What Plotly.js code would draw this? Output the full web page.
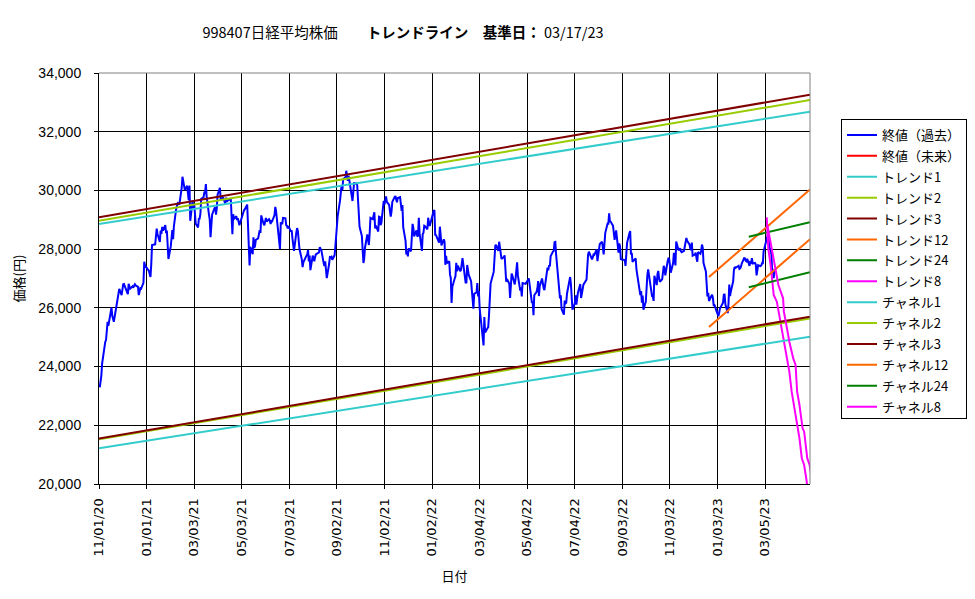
<!DOCTYPE html>
<html><head><meta charset="utf-8">
<script src="https://cdn.plot.ly/plotly-3.0.1.min.js"></script>
<style>html,body{margin:0;padding:0;background:#fff}</style>
</head><body><div id="chart" style="width:975px;height:599px"></div>
<script>
// 終値(過去): [date, close]
const closeSeries = [
['2020-11-02',23295],['2020-11-04',23695],['2020-11-05',24105],['2020-11-06',24325],['2020-11-09',24839],['2020-11-10',24905],['2020-11-11',25349],['2020-11-12',25520],['2020-11-13',25385],['2020-11-16',25906],['2020-11-17',26014],['2020-11-18',25728],['2020-11-19',25634],['2020-11-20',25527],['2020-11-24',26165],['2020-11-25',26296],['2020-11-26',26537],['2020-11-27',26644],['2020-11-30',26433],
['2020-12-01',26787],['2020-12-02',26800],['2020-12-03',26809],['2020-12-04',26751],['2020-12-07',26547],['2020-12-08',26467],['2020-12-09',26817],['2020-12-10',26756],['2020-12-11',26652],['2020-12-14',26732],['2020-12-15',26687],['2020-12-16',26757],['2020-12-17',26806],['2020-12-18',26763],['2020-12-21',26714],['2020-12-22',26436],['2020-12-23',26524],['2020-12-24',26668],['2020-12-25',26656],['2020-12-28',26854],['2020-12-29',27568],['2020-12-30',27444],
['2021-01-04',27258],['2021-01-05',27158],['2021-01-06',27055],['2021-01-07',27490],['2021-01-08',28139],['2021-01-12',28164],['2021-01-13',28456],['2021-01-14',28698],['2021-01-15',28519],['2021-01-18',28242],['2021-01-19',28633],['2021-01-20',28523],['2021-01-21',28756],['2021-01-22',28631],['2021-01-25',28822],['2021-01-26',28546],['2021-01-27',28635],['2021-01-28',28197],['2021-01-29',27663],
['2021-02-01',28091],['2021-02-02',28362],['2021-02-03',28646],['2021-02-04',28341],['2021-02-05',28779],['2021-02-08',29388],['2021-02-09',29505],['2021-02-10',29562],['2021-02-12',29520],['2021-02-15',30084],['2021-02-16',30467],['2021-02-17',30292],['2021-02-18',30236],['2021-02-19',30017],['2021-02-22',30156],['2021-02-24',29671],['2021-02-25',30168],['2021-02-26',28966],
['2021-03-01',29663],['2021-03-02',29408],['2021-03-03',29559],['2021-03-04',28930],['2021-03-05',28864],['2021-03-08',28743],['2021-03-09',29027],['2021-03-10',29036],['2021-03-11',29211],['2021-03-12',29717],['2021-03-15',29766],['2021-03-16',29921],['2021-03-17',29914],['2021-03-18',30216],['2021-03-19',29792],['2021-03-22',29174],['2021-03-23',28995],['2021-03-24',28405],['2021-03-25',28729],['2021-03-26',29176],['2021-03-29',29384],['2021-03-30',29432],['2021-03-31',29178],
['2021-04-01',29388],['2021-04-02',29854],['2021-04-05',30089],['2021-04-06',29696],['2021-04-07',29730],['2021-04-08',29708],['2021-04-09',29768],['2021-04-12',29538],['2021-04-13',29751],['2021-04-14',29620],['2021-04-15',29642],['2021-04-16',29683],['2021-04-19',29685],['2021-04-20',29100],['2021-04-21',28508],['2021-04-22',29188],['2021-04-23',29020],['2021-04-26',29126],['2021-04-27',28991],['2021-04-28',29053],['2021-04-30',28812],
['2021-05-06',29331],['2021-05-07',29357],['2021-05-10',29518],['2021-05-11',28608],['2021-05-12',28147],['2021-05-13',27448],['2021-05-14',28084],['2021-05-17',27824],['2021-05-18',28406],['2021-05-19',28044],['2021-05-20',28098],['2021-05-21',28317],['2021-05-24',28364],['2021-05-25',28553],['2021-05-26',28642],['2021-05-27',28549],['2021-05-28',29149],['2021-05-31',28860],
['2021-06-01',28814],['2021-06-02',28946],['2021-06-03',29058],['2021-06-04',28941],['2021-06-07',29019],['2021-06-08',28963],['2021-06-09',28860],['2021-06-10',28958],['2021-06-11',28948],['2021-06-14',29161],['2021-06-15',29441],['2021-06-16',29291],['2021-06-17',29018],['2021-06-18',28964],['2021-06-21',28010],['2021-06-22',28884],['2021-06-23',28874],['2021-06-24',28875],['2021-06-25',29066],['2021-06-28',29048],['2021-06-29',28812],['2021-06-30',28791],
['2021-07-01',28707],['2021-07-02',28783],['2021-07-05',28598],['2021-07-06',28643],['2021-07-07',28366],['2021-07-08',28118],['2021-07-09',27940],['2021-07-12',28569],['2021-07-13',28718],['2021-07-14',28608],['2021-07-15',28279],['2021-07-16',28003],['2021-07-19',27652],['2021-07-20',27388],['2021-07-21',27548],['2021-07-26',27833],['2021-07-27',27970],['2021-07-28',27581],['2021-07-29',27782],['2021-07-30',27283],
['2021-08-02',27781],['2021-08-03',27641],['2021-08-04',27584],['2021-08-05',27728],['2021-08-06',27820],['2021-08-10',27888],['2021-08-11',28070],['2021-08-12',28015],['2021-08-13',27977],['2021-08-16',27523],['2021-08-17',27424],['2021-08-18',27585],['2021-08-19',27281],['2021-08-20',27013],['2021-08-23',27494],['2021-08-24',27732],['2021-08-25',27724],['2021-08-26',27742],['2021-08-27',27641],['2021-08-30',27789],['2021-08-31',28089],
['2021-09-01',28451],['2021-09-02',28543],['2021-09-03',29128],['2021-09-06',29659],['2021-09-07',29916],['2021-09-08',30181],['2021-09-09',30008],['2021-09-10',30381],['2021-09-13',30447],['2021-09-14',30670],['2021-09-15',30511],['2021-09-16',30323],['2021-09-17',30500],['2021-09-21',29839],['2021-09-22',29639],['2021-09-24',30248],['2021-09-27',30240],['2021-09-28',30183],['2021-09-29',29544],['2021-09-30',29452],
['2021-10-01',28771],['2021-10-04',28444],['2021-10-05',27822],['2021-10-06',27528],['2021-10-07',27678],['2021-10-08',28048],['2021-10-11',28498],['2021-10-12',28230],['2021-10-13',28140],['2021-10-14',28550],['2021-10-15',29068],['2021-10-18',29025],['2021-10-19',29215],['2021-10-20',29255],['2021-10-21',28708],['2021-10-22',28804],['2021-10-25',28600],['2021-10-26',29106],['2021-10-27',29098],['2021-10-28',28820],['2021-10-29',28892],
['2021-11-01',29647],['2021-11-02',29520],['2021-11-04',29794],['2021-11-05',29611],['2021-11-08',29507],['2021-11-09',29285],['2021-11-10',29106],['2021-11-11',29277],['2021-11-12',29609],['2021-11-15',29776],['2021-11-16',29808],['2021-11-17',29688],['2021-11-18',29598],['2021-11-19',29745],['2021-11-22',29774],['2021-11-24',29302],['2021-11-25',29499],['2021-11-26',28751],['2021-11-29',28283],['2021-11-30',27821],
['2021-12-01',27935],['2021-12-02',27753],['2021-12-03',28029],['2021-12-06',27927],['2021-12-07',28455],['2021-12-08',28860],['2021-12-09',28725],['2021-12-10',28437],['2021-12-13',28640],['2021-12-14',28432],['2021-12-15',28459],['2021-12-16',29066],['2021-12-17',28545],['2021-12-20',27937],['2021-12-21',28517],['2021-12-22',28562],['2021-12-23',28798],['2021-12-24',28782],['2021-12-27',28676],['2021-12-28',29069],['2021-12-29',28906],['2021-12-30',28791],
['2022-01-04',29301],['2022-01-05',29332],['2022-01-06',28487],['2022-01-07',28478],['2022-01-11',28222],['2022-01-12',28765],['2022-01-13',28489],['2022-01-14',28124],['2022-01-17',28333],['2022-01-18',28257],['2022-01-19',27467],['2022-01-20',27772],['2022-01-21',27522],['2022-01-24',27588],['2022-01-25',27131],['2022-01-26',27011],['2022-01-27',26170],['2022-01-28',26717],['2022-01-31',27001],
['2022-02-01',27078],['2022-02-02',27533],['2022-02-03',27241],['2022-02-04',27439],['2022-02-07',27248],['2022-02-08',27284],['2022-02-09',27579],['2022-02-10',27696],['2022-02-14',26865],['2022-02-15',26865],['2022-02-16',27460],['2022-02-17',27232],['2022-02-18',27122],['2022-02-21',26910],['2022-02-22',26449],['2022-02-24',25970],['2022-02-25',26476],['2022-02-28',26526],
['2022-03-01',26844],['2022-03-02',26393],['2022-03-03',26577],['2022-03-04',25985],['2022-03-07',25221],['2022-03-08',24790],['2022-03-09',24717],['2022-03-10',25690],['2022-03-11',25163],['2022-03-14',25307],['2022-03-15',25346],['2022-03-16',25762],['2022-03-17',26652],['2022-03-18',26827],['2022-03-22',27224],['2022-03-23',28040],['2022-03-24',28110],['2022-03-25',28149],['2022-03-28',27943],['2022-03-29',28252],['2022-03-30',28027],['2022-03-31',27821],
['2022-04-01',27665],['2022-04-04',27736],['2022-04-05',27787],['2022-04-06',27350],['2022-04-07',26888],['2022-04-08',26985],['2022-04-11',26821],['2022-04-12',26334],['2022-04-13',26843],['2022-04-14',27172],['2022-04-15',27093],['2022-04-18',26799],['2022-04-19',26985],['2022-04-20',27217],['2022-04-21',27553],['2022-04-22',27105],['2022-04-25',26590],['2022-04-26',26700],['2022-04-27',26386],['2022-04-28',26847],
['2022-05-02',26818],['2022-05-06',27003],['2022-05-09',26319],['2022-05-10',26167],['2022-05-11',26213],['2022-05-12',25748],['2022-05-13',26427],['2022-05-16',26547],['2022-05-17',26659],['2022-05-18',26911],['2022-05-19',26402],['2022-05-20',26739],['2022-05-23',27001],['2022-05-24',26748],['2022-05-25',26677],['2022-05-26',26604],['2022-05-27',26781],['2022-05-30',27369],['2022-05-31',27279],
['2022-06-01',27457],['2022-06-02',27413],['2022-06-03',27761],['2022-06-06',27915],['2022-06-07',27943],['2022-06-08',28234],['2022-06-09',28246],['2022-06-10',27824],['2022-06-13',26987],['2022-06-14',26629],['2022-06-15',26326],['2022-06-16',26431],['2022-06-17',25963],['2022-06-20',25771],['2022-06-21',26246],['2022-06-22',26149],['2022-06-23',26171],['2022-06-24',26491],['2022-06-27',26871],['2022-06-28',27049],['2022-06-29',26804],['2022-06-30',26393],
['2022-07-01',25935],['2022-07-04',26153],['2022-07-05',26423],['2022-07-06',26107],['2022-07-07',26490],['2022-07-08',26517],['2022-07-11',26812],['2022-07-12',26336],['2022-07-13',26478],['2022-07-14',26643],['2022-07-15',26788],['2022-07-19',26961],['2022-07-20',27680],['2022-07-21',27803],['2022-07-22',27914],['2022-07-25',27699],['2022-07-26',27655],['2022-07-27',27715],['2022-07-28',27815],['2022-07-29',27801],
['2022-08-01',27993],['2022-08-02',27594],['2022-08-03',27741],['2022-08-04',27932],['2022-08-05',28175],['2022-08-08',28249],['2022-08-09',27999],['2022-08-10',27819],['2022-08-12',28546],['2022-08-15',28871],['2022-08-16',28868],['2022-08-17',29222],['2022-08-18',28942],['2022-08-19',28930],['2022-08-22',28794],['2022-08-23',28452],['2022-08-24',28313],['2022-08-25',28479],['2022-08-26',28641],['2022-08-29',27878],['2022-08-30',28195],['2022-08-31',28091],
['2022-09-01',27661],['2022-09-02',27650],['2022-09-05',27619],['2022-09-06',27626],['2022-09-07',27430],['2022-09-08',28065],['2022-09-09',28214],['2022-09-12',28542],['2022-09-13',28614],['2022-09-14',27818],['2022-09-15',27875],['2022-09-16',27567],['2022-09-20',27688],['2022-09-21',27313],['2022-09-22',27153],['2022-09-26',26431],['2022-09-27',26571],['2022-09-28',26173],['2022-09-29',26422],['2022-09-30',25937],
['2022-10-03',26215],['2022-10-04',26992],['2022-10-05',27120],['2022-10-06',27311],['2022-10-07',27116],['2022-10-11',26401],['2022-10-12',26397],['2022-10-13',26237],['2022-10-14',27090],['2022-10-17',26775],['2022-10-18',27156],['2022-10-19',27257],['2022-10-20',27006],['2022-10-21',26890],['2022-10-24',26974],['2022-10-25',27250],['2022-10-26',27431],['2022-10-27',27345],['2022-10-28',27105],['2022-10-31',27587],
['2022-11-01',27678],['2022-11-02',27663],['2022-11-04',27199],['2022-11-07',27527],['2022-11-08',27872],['2022-11-09',27716],['2022-11-10',27446],['2022-11-11',28263],['2022-11-14',27963],['2022-11-15',27990],['2022-11-16',28028],['2022-11-17',27930],['2022-11-18',27899],['2022-11-21',27944],['2022-11-22',28115],['2022-11-24',28383],['2022-11-25',28283],['2022-11-28',28162],['2022-11-29',28027],['2022-11-30',27968],
['2022-12-01',28226],['2022-12-02',27777],['2022-12-05',27820],['2022-12-06',27885],['2022-12-07',27686],['2022-12-08',27574],['2022-12-09',27901],['2022-12-12',27842],['2022-12-13',27954],['2022-12-14',28156],['2022-12-15',28051],['2022-12-16',27527],['2022-12-19',27237],['2022-12-20',26568],['2022-12-21',26387],['2022-12-22',26507],['2022-12-23',26235],['2022-12-26',26405],['2022-12-27',26447],['2022-12-28',26340],['2022-12-29',26093],['2022-12-30',26094],
['2023-01-04',25716],['2023-01-05',25820],['2023-01-06',25973],['2023-01-10',26175],['2023-01-11',26446],['2023-01-12',26449],['2023-01-13',26119],['2023-01-16',25822],['2023-01-17',26138],['2023-01-18',26791],['2023-01-19',26405],['2023-01-20',26553],['2023-01-23',26906],['2023-01-24',27299],['2023-01-25',27395],['2023-01-26',27362],['2023-01-27',27382],['2023-01-30',27433],['2023-01-31',27327],
['2023-02-01',27346],['2023-02-02',27402],['2023-02-03',27509],['2023-02-06',27694],['2023-02-07',27685],['2023-02-08',27606],['2023-02-09',27584],['2023-02-10',27670],['2023-02-13',27427],['2023-02-14',27602],['2023-02-15',27501],['2023-02-16',27696],['2023-02-17',27513],['2023-02-20',27531],['2023-02-21',27473],['2023-02-22',27104],['2023-02-24',27453],['2023-02-27',27423],['2023-02-28',27445],
['2023-03-01',27516],['2023-03-02',27498],['2023-03-03',27927],['2023-03-06',28237],['2023-03-07',28309],['2023-03-08',28444],['2023-03-09',28623],['2023-03-10',28143],['2023-03-13',27832],['2023-03-14',27222],['2023-03-15',27229],['2023-03-16',27010],['2023-03-17',27333]
];
const closeDates = closeSeries.map(d => d[0]);
const closeValues = closeSeries.map(d => d[1]);

// 終値(未来): no values drawn in the reference
const futureDates = ['2023-03-17'];
const futureValues = [null];

// long-term trend / channel lines (start, end)
const longDates = ['2020-11-01', '2023-05-01 12:00'];
const trend1 = [28857, 32682];
const trend2 = [28970, 33080];
const trend3 = [29085, 33261];
const channel1 = [21218, 25019];
const channel2 = [21520, 25640];
const channel3 = [21548, 25700];

const dates12 = ['2022-12-23', '2023-05-01 12:00'];
const trend12 = [27050, 30030];
const channel12 = [25345, 28340];

const dates24 = ['2023-02-12', '2023-05-01 12:00'];
const trend24 = [28425, 28914];
const channel24 = [26700, 27215];

const trend8Dates = ['2023-03-07','2023-03-09','2023-03-12','2023-03-16','2023-03-20','2023-03-23','2023-03-26','2023-03-29','2023-04-02','2023-04-05','2023-04-08','2023-04-11','2023-04-15','2023-04-18','2023-04-21','2023-04-24','2023-04-27','2023-04-30'];
const trend8 = [29085,28029,27460,26438,26210,25757,25303,24848,24166,23826,23144,22691,22010,21556,20875,20647,20136,19500];
const channel8Dates = ['2023-03-08','2023-03-14','2023-03-18','2023-03-22','2023-03-28','2023-03-29','2023-04-02','2023-04-05','2023-04-10','2023-04-13','2023-04-15','2023-04-18','2023-04-22','2023-04-24','2023-04-28','2023-05-01','2023-05-03'];
const channel8 = [28800,27914,27347,26779,26325,25870,25303,24848,24280,24053,23144,22691,21897,21783,20875,20647,20306];

const tickDates = ['2020-11-01','2021-01-01','2021-03-03','2021-05-03','2021-07-03','2021-09-02','2021-11-02','2022-01-02','2022-03-04','2022-05-04','2022-07-04','2022-09-03','2022-11-03','2023-01-03','2023-03-05'];
const tickLabels = ['11/01/20','01/01/21','03/03/21','05/03/21','07/03/21','09/02/21','11/02/21','01/02/22','03/04/22','05/04/22','07/04/22','09/03/22','11/03/22','01/03/23','03/05/23'];

const C = {blue:'#0000FF', red:'#FF0000', cyan:'#33CCCC', lime:'#99CC00', maroon:'#800000', orange:'#FF6600', green:'#008000', magenta:'#FF00FF'};
let gi = 0;
function ln(name, x, y, color){
  gi += 1;
  return {type:'scatter', mode:'lines', name:name, x:x, y:y, line:{color:color, width:2}, hoverinfo:'skip', showlegend:true, legendgroup:'g' + gi};
}
const traces = [
  ln('終値（過去）', closeDates, closeValues, C.blue),
  ln('終値（未来）', futureDates, futureValues, C.red),
  ln('トレンド1', longDates, trend1, C.cyan),
  ln('トレンド2', longDates, trend2, C.lime),
  ln('トレンド3', longDates, trend3, C.maroon),
  ln('トレンド12', dates12, trend12, C.orange),
  ln('トレンド24', dates24, trend24, C.green),
  ln('トレンド8', trend8Dates, trend8, C.magenta),
  ln('チャネル1', longDates, channel1, C.cyan),
  ln('チャネル2', longDates, channel2, C.lime),
  ln('チャネル3', longDates, channel3, C.maroon),
  ln('チャネル12', dates12, channel12, C.orange),
  ln('チャネル24', dates24, channel24, C.green),
  ln('チャネル8', channel8Dates, channel8, C.magenta)
];

const jp = '"Noto Sans CJK JP", "Noto Sans", sans-serif';
const layout = {
  width: 975, height: 599,
  margin: {l: 99, r: 165, t: 73, b: 115, pad: 0},
  paper_bgcolor: '#ffffff', plot_bgcolor: '#ffffff',
  font: {family: '"Liberation Sans", Arial, sans-serif', size: 13, color: '#000'},
  title: {
    text: '998407日経平均株価　　<b>トレンドライン　基準日：</b> 03/17/23',
    font: {family: jp, size: 14.5, color: '#000'},
    xref: 'container', x: 403/975, xanchor: 'center',
    yref: 'container', y: 1 - 33/599, yanchor: 'middle'
  },
  xaxis: {
    type: 'date', range: ['2020-11-01', '2023-05-01 12:00'],
    tickmode: 'array', tickvals: tickDates, ticktext: tickLabels, tickangle: -90,
    tickfont: {family: '"DejaVu Sans", sans-serif', size: 13, color: '#000'},
    showgrid: true, gridcolor: '#000', gridwidth: 1, zeroline: false,
    showline: true, linecolor: '#000', linewidth: 1,
    ticks: 'outside', ticklen: 4, tickcolor: '#000', ticklabelstandoff: 4,
    title: {text: '日付', font: {family: jp, size: 13, color: '#000'}, standoff: 16},
    automargin: false, fixedrange: true
  },
  yaxis: {
    range: [20000, 34000], tick0: 20000, dtick: 2000, tickformat: ',',
    tickfont: {family: '"Liberation Sans", Arial, sans-serif', size: 14, color: '#000'},
    showgrid: true, gridcolor: '#000', gridwidth: 1, zeroline: false,
    showline: true, linecolor: '#000', linewidth: 1,
    ticks: 'outside', ticklen: 4, tickcolor: '#000', ticklabelstandoff: 10,
    title: {text: '価格(円)', font: {family: jp, size: 13, color: '#000'}, standoff: 10},
    automargin: false, fixedrange: true
  },
  legend: {
    xref: 'container', yref: 'container',
    x: 841 / 975, xanchor: 'left', y: 1 - 119 / 599, yanchor: 'top',
    bordercolor: '#000', borderwidth: 1, bgcolor: '#fff',
    font: {family: jp, size: 13, color: '#000'}, itemwidth: 30,
    traceorder: 'grouped', tracegroupgap: 1
  },
  shapes: [
    {type: 'line', xref: 'paper', yref: 'paper', x0: 0, x1: 1, y0: 1, y1: 1, line: {color: '#808080', width: 1}, layer: 'above'},
    {type: 'line', xref: 'paper', yref: 'paper', x0: 1, x1: 1, y0: 0, y1: 1, line: {color: '#808080', width: 1}, layer: 'above'}
  ],
  showlegend: true
};
Plotly.newPlot('chart', traces, layout, {staticPlot: true, displayModeBar: false});
</script>
</body></html>
